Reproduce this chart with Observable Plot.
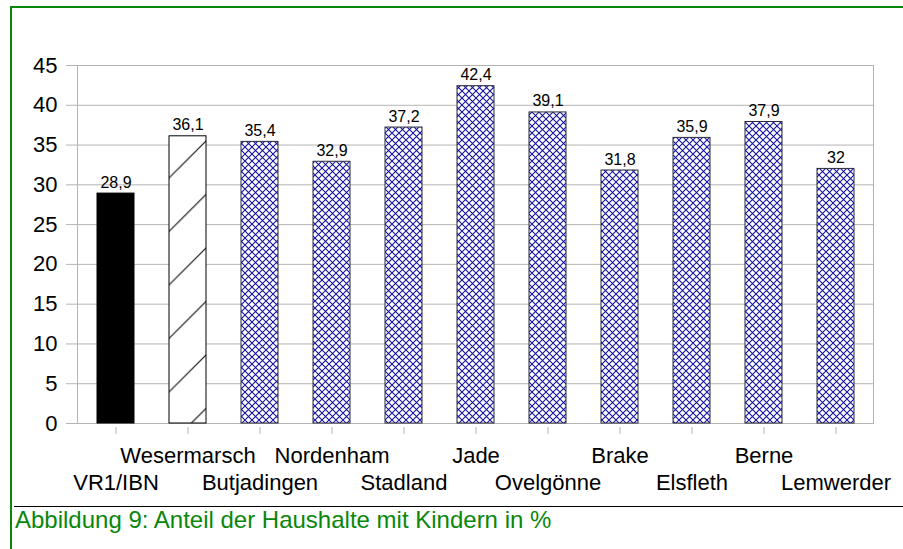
<!DOCTYPE html>
<html>
<head>
<meta charset="utf-8">
<script src="https://cdn.jsdelivr.net/npm/d3@7"></script>
<script src="https://cdn.jsdelivr.net/npm/@observablehq/plot@0.6"></script>
<style>
  html, body { margin: 0; padding: 0; background: #fff; }
  body { width: 903px; height: 549px; position: relative; overflow: hidden; font-family: "Liberation Sans", Arial, sans-serif; }
  #chart { position: absolute; left: 0; top: 0; }
  .green-top { position: absolute; left: 10px; top: 6px; width: 893px; height: 2px; background: #0a870a; }
  .green-left { position: absolute; left: 10px; top: 6px; width: 2px; height: 543px; background: #0a870a; }
  .sep { position: absolute; left: 14px; top: 506px; width: 889px; height: 1px; background: #000; }
  .caption { position: absolute; left: 15px; top: 508px; font-size: 24px; line-height: 24px; color: #0a870a; white-space: nowrap; }
</style>
</head>
<body>
<div id="chart"></div>
<div class="green-top"></div>
<div class="green-left"></div>
<div class="sep"></div>
<div class="caption">Abbildung 9: Anteil der Haushalte mit Kindern in %</div>
<script>
const categories = ["VR1/IBN", "Wesermarsch", "Butjadingen", "Nordenham", "Stadland", "Jade", "Ovelgönne", "Brake", "Elsfleth", "Berne", "Lemwerder"];
const values = [28.9, 36.1, 35.4, 32.9, 37.2, 42.4, 39.1, 31.8, 35.9, 37.9, 32];
const types = ["Vergleichsregion", "Landkreis", "Gemeinde", "Gemeinde", "Gemeinde", "Gemeinde", "Gemeinde", "Gemeinde", "Gemeinde", "Gemeinde", "Gemeinde"];
const yTicks = [0, 5, 10, 15, 20, 25, 30, 35, 40, 45];

const data = categories.map((c, i) => ({cat: c, value: values[i], type: types[i], label: String(values[i]).replace(".", ",")}));
const upperRow = categories.filter((d, i) => i % 2 === 1);
const lowerRow = categories.filter((d, i) => i % 2 === 0);
const gray = "#b4b4b4";

const plot = Plot.plot({
  width: 903,
  height: 500,
  marginLeft: 77,
  marginRight: 30,
  marginTop: 65,
  marginBottom: 77,
  style: {fontFamily: "'Liberation Sans', Arial, sans-serif", fontSize: "22px", background: "transparent", color: "black"},
  x: {domain: categories, paddingInner: 0.49, paddingOuter: 0.245, label: null},
  y: {domain: [0, 45], label: null},
  color: {domain: ["Vergleichsregion", "Landkreis", "Gemeinde"], range: ["black", "url(#hatch)", "url(#cross)"]},
  marks: [
    Plot.gridY(yTicks, {stroke: gray, strokeOpacity: 1}),
    Plot.frame({stroke: gray}),
    Plot.axisY({ticks: yTicks, tickSize: 11, tickPadding: 9, stroke: gray, fill: "black", label: null, tickFormat: d => String(d)}),
    Plot.axisX({tickSize: 7, dy: 4, stroke: gray, tickFormat: () => "", label: null}),
    Plot.axisX({ticks: upperRow, tickSize: 0, tickPadding: 24, fill: "black", label: null}),
    Plot.axisX({ticks: lowerRow, tickSize: 0, tickPadding: 51, fill: "black", label: null}),
    Plot.barY(data.filter(d => d.type !== "Gemeinde"), {x: "cat", y: "value", fill: "type", stroke: "black", strokeWidth: 1}),
    Plot.barY(data.filter(d => d.type === "Gemeinde"), {x: "cat", y: "value", fill: "type", stroke: "#2a2a3a", strokeWidth: 1}),
    Plot.text(data, {x: "cat", y: "value", text: "label", lineAnchor: "bottom", dy: -6, fontSize: 16, fill: "black"})
  ]
});

const svg = d3.select(plot);
const defs = svg.insert("defs", ":first-child");
const h = defs.append("pattern").attr("id", "hatch").attr("patternUnits", "userSpaceOnUse")
  .attr("width", 53.5).attr("height", 53.5).attr("x", 0).attr("y", 26);
h.append("rect").attr("width", 53.5).attr("height", 53.5).attr("fill", "white");
h.append("line").attr("x1", 0).attr("y1", 53.5).attr("x2", 53.5).attr("y2", 0).attr("stroke", "black").attr("stroke-width", 1);
const c = defs.append("pattern").attr("id", "cross").attr("patternUnits", "userSpaceOnUse")
  .attr("width", 7).attr("height", 7);
c.append("rect").attr("width", 7).attr("height", 7).attr("fill", "white");
c.append("path").attr("d", "M0,0L7,7M7,0L0,7").attr("stroke", "#1414a0").attr("stroke-width", 1.1);

document.getElementById("chart").appendChild(plot);
</script>
</body>
</html>
